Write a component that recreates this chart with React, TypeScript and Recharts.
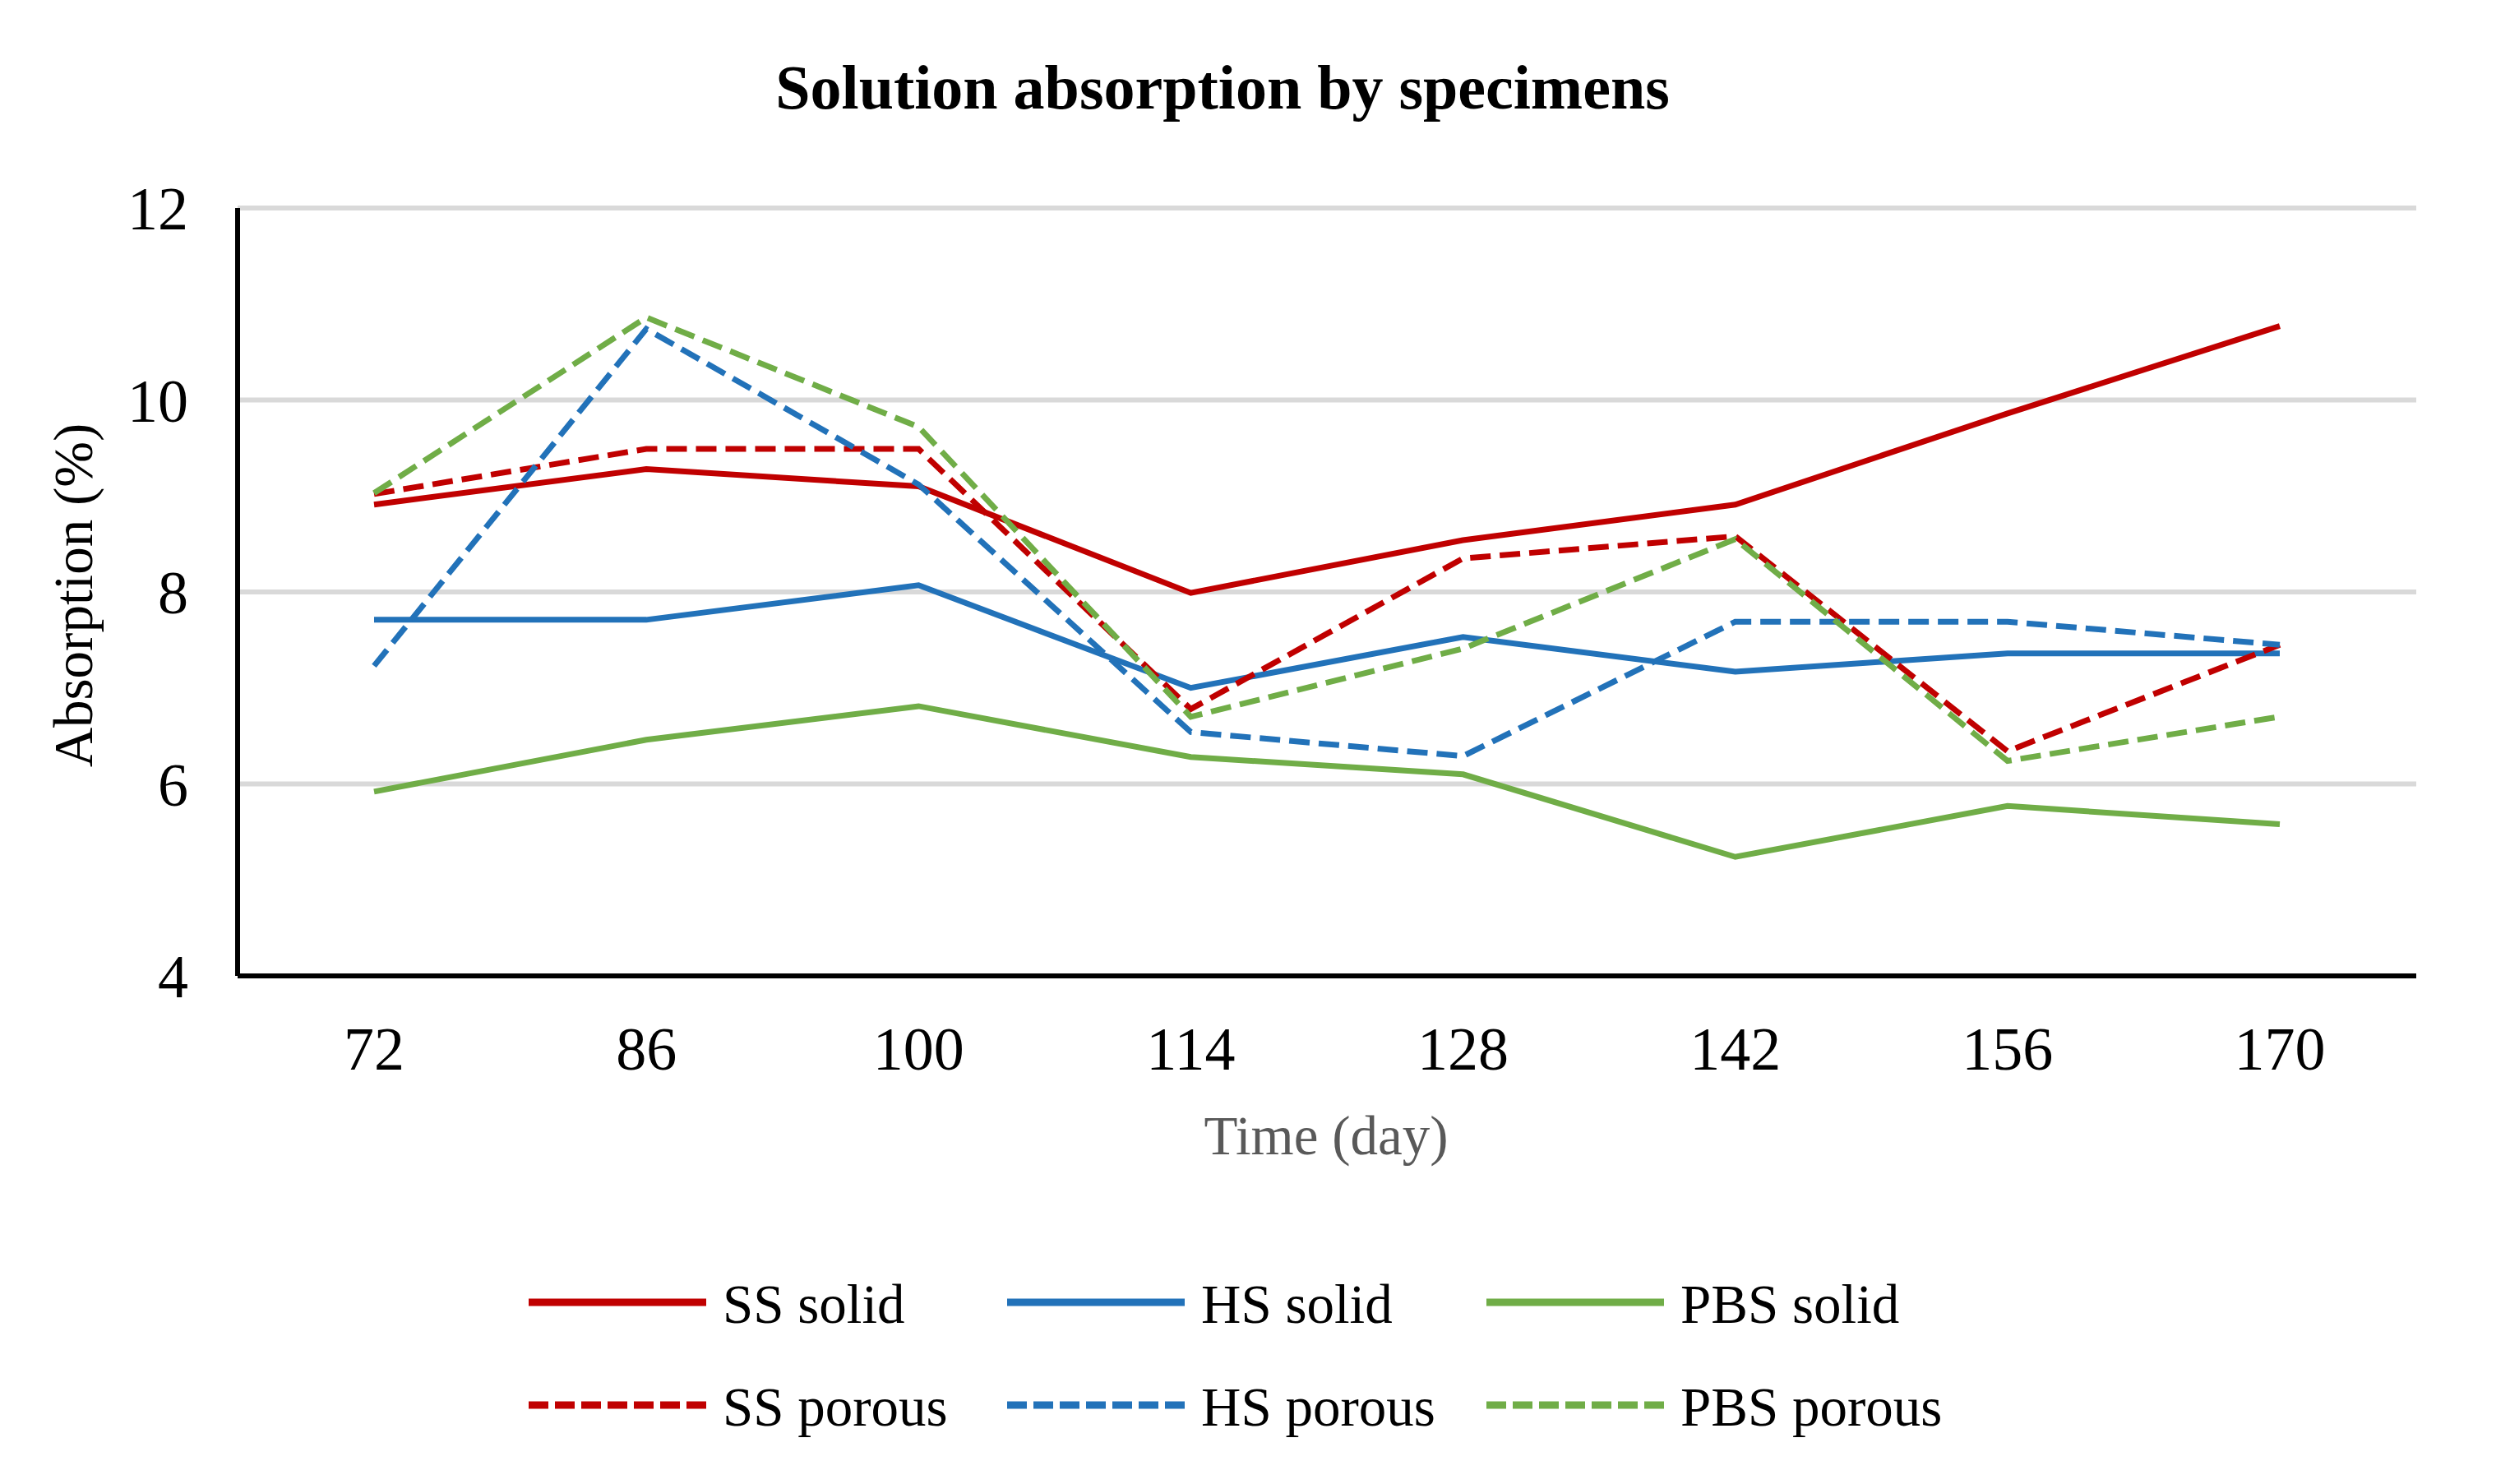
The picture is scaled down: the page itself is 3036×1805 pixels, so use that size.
import { LineChart, Line, XAxis, YAxis, CartesianGrid } from 'recharts';

const days = ['72', '86', '100', '114', '128', '142', '156', '170'];
const ssSolid = [8.91, 9.28, 9.1, 7.99, 8.54, 8.91, 9.86, 10.77];
const hsSolid = [7.71, 7.71, 8.07, 7.0, 7.53, 7.17, 7.36, 7.36];
const pbsSolid = [5.92, 6.46, 6.81, 6.28, 6.1, 5.24, 5.77, 5.58];
const ssPorous = [9.02, 9.49, 9.49, 6.78, 8.35, 8.58, 6.34, 7.45];
const hsPorous = [7.23, 10.74, 9.12, 6.54, 6.29, 7.69, 7.69, 7.45];
const pbsPorous = [9.03, 10.86, 9.72, 6.7, 7.41, 8.55, 6.24, 6.7];
const yTicks = [4, 6, 8, 10, 12];

const RED = '#C00000';
const BLUE = '#2272B9';
const GREEN = '#70AD47';

const series = [
  { key: 'ssSolid', name: 'SS solid', color: RED, dashed: false, values: ssSolid },
  { key: 'hsSolid', name: 'HS solid', color: BLUE, dashed: false, values: hsSolid },
  { key: 'pbsSolid', name: 'PBS solid', color: GREEN, dashed: false, values: pbsSolid },
  { key: 'ssPorous', name: 'SS porous', color: RED, dashed: true, values: ssPorous },
  { key: 'hsPorous', name: 'HS porous', color: BLUE, dashed: true, values: hsPorous },
  { key: 'pbsPorous', name: 'PBS porous', color: GREEN, dashed: true, values: pbsPorous },
];

const data = days.map((day, i) => {
  const row: Record<string, string | number> = { day };
  series.forEach((s) => {
    row[s.key] = s.values[i];
  });
  return row;
});

const W = 3020;
const H = 1789;
const FONT = '"Liberation Serif", "Times New Roman", serif';

export default function App() {
  return (
    <div style={{ position: 'relative', width: W, height: H, fontFamily: FONT }}>
      <LineChart width={W} height={H} data={data} margin={{ top: 245, right: 89, bottom: 480, left: 0 }}>
        <CartesianGrid vertical={false} stroke="#D9D9D9" strokeWidth={6} />
        <XAxis
          dataKey="day"
          height={130}
          padding={{ left: 166, right: 166 }}
          axisLine={{ stroke: '#000', strokeWidth: 6 }}
          tickLine={false}
          tickSize={0}
          tickMargin={61}
          tick={{ fill: '#000', fontSize: 74, fontFamily: FONT }}
        />
        <YAxis
          width={281}
          domain={[4, 12]}
          ticks={yTicks}
          interval={0}
          axisLine={{ stroke: '#000', strokeWidth: 6 }}
          tickLine={false}
          tickSize={0}
          tickMargin={60}
          tick={{ fill: '#000', fontSize: 74, fontFamily: FONT }}
        />
        {series.map((s) => (
          <Line
            key={s.key}
            dataKey={s.key}
            name={s.name}
            type="linear"
            stroke={s.color}
            strokeWidth={7}
            strokeDasharray={s.dashed ? '25 11' : undefined}
            dot={false}
            activeDot={false}
            isAnimationActive={false}
          />
        ))}
      </LineChart>

      {/* title, axis titles and legend */}
      <svg
        width={W}
        height={H}
        style={{ position: 'absolute', left: 0, top: 0, pointerEvents: 'none' }}
        fontFamily={FONT}
      >
        <text x={1479} y={124} textAnchor="middle" fontSize={76} fontWeight="bold" fill="#000">
          Solution absorption by specimens
        </text>
        <text
          x={104}
          y={716}
          textAnchor="middle"
          fontSize={67}
          fill="#000"
          transform="rotate(-90 104 716)"
        >
          Absorption (%)
        </text>
        <text x={1605} y={1396} textAnchor="middle" fontSize={67} fill="#595959">
          Time (day)
        </text>
        {series.map((s, i) => {
          const col = i % 3;
          const row = Math.floor(i / 3);
          const x0 = [635, 1217, 1800][col];
          const cy = [1576, 1701][row];
          return (
            <g key={s.key}>
              <line
                x1={x0}
                x2={x0 + 216}
                y1={cy}
                y2={cy}
                stroke={s.color}
                strokeWidth={9}
                strokeDasharray={s.dashed ? '24 8' : undefined}
              />
              <text x={x0 + 236} y={cy + 25} fontSize={67} fill="#000">
                {s.name}
              </text>
            </g>
          );
        })}
      </svg>
    </div>
  );
}
